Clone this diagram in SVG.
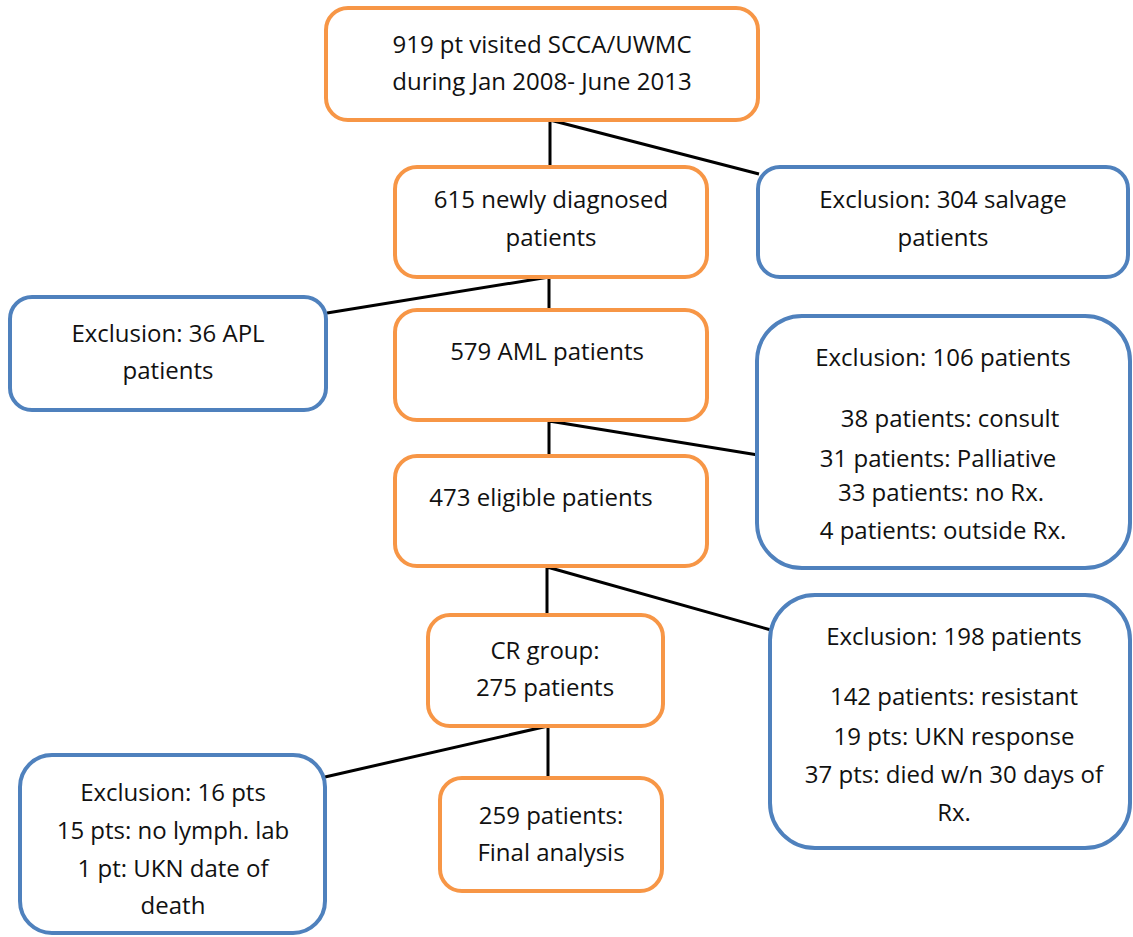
<svg xmlns="http://www.w3.org/2000/svg" width="1133" height="937" viewBox="0 0 1133 937">
<style>
.o{fill:#fff;stroke:#F79646;stroke-width:4}
.b{fill:#fff;stroke:#4F81BD;stroke-width:4}
.c{fill:none;stroke:#000;stroke-width:3}
text{font-family:"Open Sans","Liberation Sans",Arial,sans-serif;font-size:24px;fill:#111;text-anchor:middle}
</style>
<rect width="1133" height="937" fill="#fff"/>
<g id="connectors">
<path class="c" d="M550 120V167M550 120L759 174"/>
<path class="c" d="M549 277V311M549 277L327 313"/>
<path class="c" d="M549 421V457M549 421L758 455"/>
<path class="c" d="M547 567V615M547 567L771 630"/>
<path class="c" d="M548 726V779M548 726L325 777"/>
</g>
<g id="n1"><rect class="o" x="326" y="8" width="432" height="112" rx="22"/><text x="542" y="53">919 pt visited SCCA/UWMC</text><text x="542" y="90">during Jan 2008- June 2013</text></g>
<g id="n2"><rect class="o" x="395" y="167" width="312" height="110" rx="22"/><text x="551" y="208">615 newly diagnosed</text><text x="551" y="246">patients</text></g>
<g id="n3"><rect class="b" x="758" y="167" width="370" height="110" rx="22"/><text x="943" y="208">Exclusion: 304 salvage</text><text x="943" y="246">patients</text></g>
<g id="n4"><rect class="b" x="10" y="297" width="316" height="113" rx="22"/><text x="168" y="342">Exclusion: 36 APL</text><text x="168" y="379">patients</text></g>
<g id="n5"><rect class="o" x="395" y="310" width="312" height="110" rx="22"/><text x="547" y="360">579 AML patients</text></g>
<g id="n6"><rect class="b" x="757" y="316" width="373" height="252" rx="45"/><text x="943" y="366">Exclusion: 106 patients</text><text x="950" y="427">38 patients: consult</text><text x="938" y="467">31 patients: Palliative</text><text x="941" y="501">33 patients: no Rx.</text><text x="943" y="539">4 patients: outside Rx.</text></g>
<g id="n7"><rect class="o" x="395" y="456" width="312" height="110" rx="22"/><text x="541" y="506">473 eligible patients</text></g>
<g id="n8"><rect class="o" x="428" y="615" width="235" height="111" rx="22"/><text x="545" y="659">CR group:</text><text x="545" y="696">275 patients</text></g>
<g id="n9"><rect class="b" x="770" y="595" width="360" height="253" rx="45"/><text x="954" y="645">Exclusion: 198 patients</text><text x="954" y="705">142 patients: resistant</text><text x="954" y="745">19 pts: UKN response</text><text x="954" y="783">37 pts: died w/n 30 days of</text><text x="954" y="821">Rx.</text></g>
<g id="n10"><rect class="b" x="20" y="755" width="305" height="178" rx="32"/><text x="173" y="801">Exclusion: 16 pts</text><text x="173" y="839">15 pts: no lymph. lab</text><text x="173" y="877">1 pt: UKN date of</text><text x="173" y="914">death</text></g>
<g id="n11"><rect class="o" x="440" y="778" width="222" height="113" rx="22"/><text x="551" y="824">259 patients:</text><text x="551" y="861">Final analysis</text></g>
</svg>
